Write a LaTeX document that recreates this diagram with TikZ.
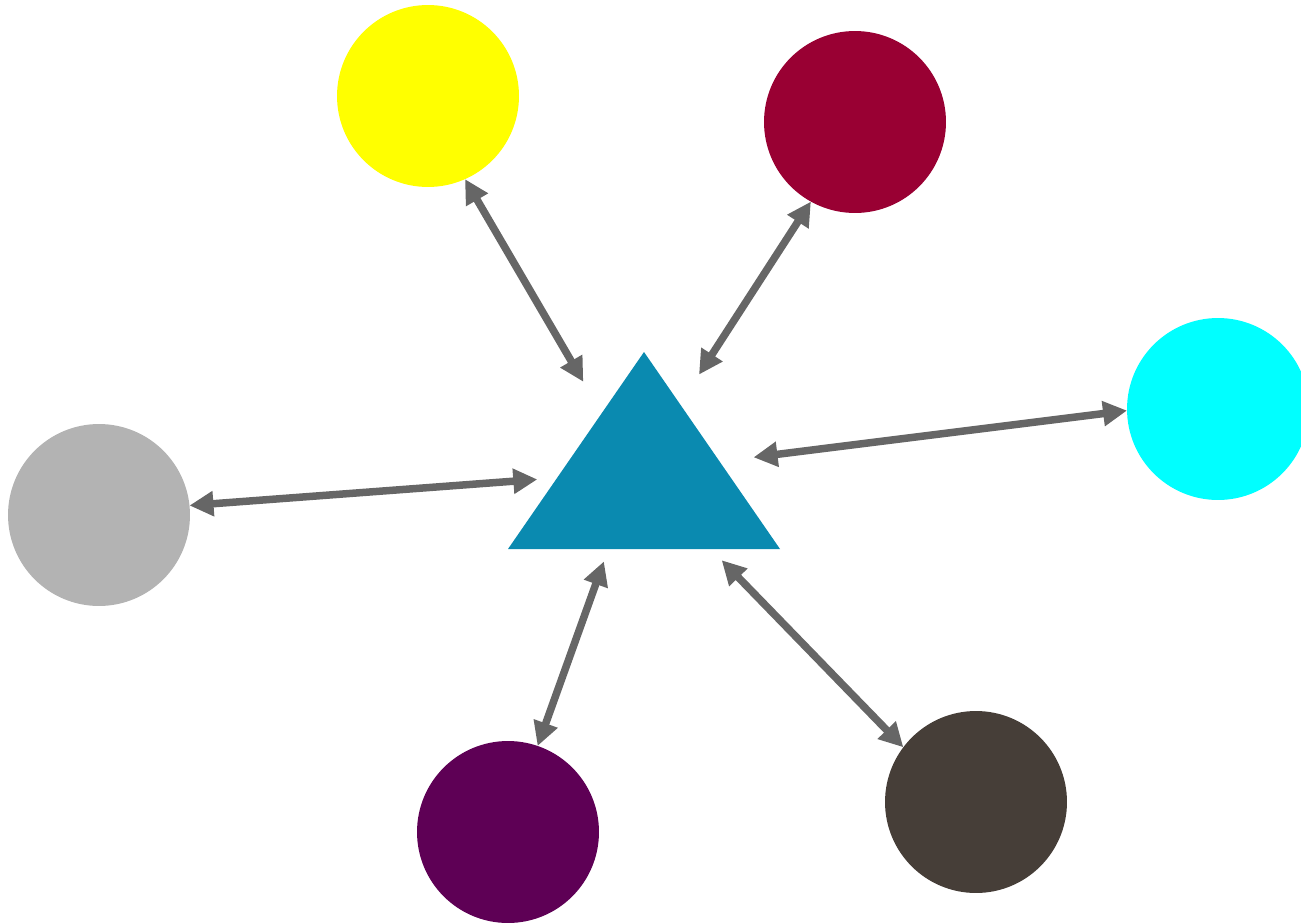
\documentclass[tikz,border=0pt]{standalone}
\usepackage{tikz}
\usetikzlibrary{arrows.meta,calc}
\definecolor{hubblue}{HTML}{0A8AB0}
\definecolor{linkgray}{HTML}{666666}
\definecolor{sunyellow}{HTML}{FFFF00}
\definecolor{winered}{HTML}{990033}
\definecolor{brightcyan}{HTML}{00FFFF}
\definecolor{stonegray}{HTML}{B3B3B3}
\definecolor{plumpurple}{HTML}{5E0055}
\definecolor{darkbrown}{HTML}{463E38}

\begin{document}
\begin{tikzpicture}[x=0.02cm, y=-0.02cm,
  blob/.style={circle, minimum size=3.64cm, inner sep=0pt, outer sep=0pt, draw=none},
  link/.style={linkgray, line width=0.15cm, {Triangle[length=0.48cm,width=0.48cm]}-{Triangle[length=0.48cm,width=0.48cm]}}]
  \useasboundingbox (0,0) rectangle (1301,923);
  \clip (0,0) rectangle (1301,923);
  % central triangle
  \fill[hubblue] (508,549) -- (644,352) -- (780,549) -- cycle;
  \coordinate (tri) at (636,472);
  % surrounding circles
  \node[blob, fill=sunyellow] (yel) at (428,96) {};
  \node[blob, fill=winered] (red) at (855,122) {};
  \node[blob, fill=brightcyan] (cya) at (1218,409) {};
  \node[blob, fill=stonegray] (gry) at (99,515) {};
  \node[blob, fill=plumpurple] (pur) at (508,832) {};
  \node[blob, fill=darkbrown] (brn) at (976,802) {};
  % links
  \draw[link, shorten >=2.09cm] (yel.-66) -- (tri);
  \draw[link, shorten >=2.32cm] (red.-119) -- (tri);
  \draw[link, shorten >=2.37cm] (cya.181) -- (tri);
  \draw[link, shorten >=1.98cm] (gry.6) -- (tri);
  \draw[link, shorten >=1.9cm] (pur.71) -- (tri);
  \draw[link, shorten >=2.46cm] (brn.143) -- (tri);
\end{tikzpicture}
\end{document}
